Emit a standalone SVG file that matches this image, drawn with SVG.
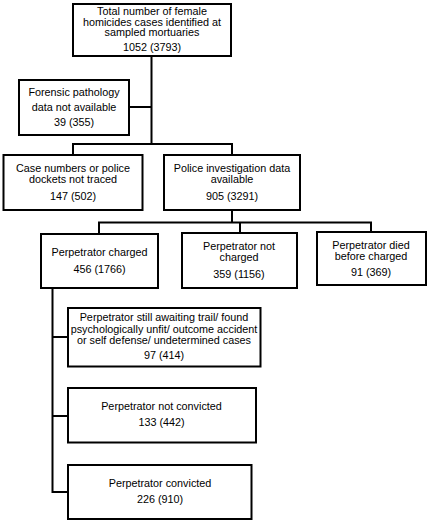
<svg xmlns="http://www.w3.org/2000/svg" width="430" height="523" viewBox="0 0 430 523">
<style>
rect{fill:#fff;stroke:#000;stroke-width:2}
text{font-family:"Liberation Sans",Arial,sans-serif;font-size:10.8px;fill:#000;text-anchor:middle}
#connectors path{fill:none;stroke:#000;stroke-width:2}
</style>
<rect x="0" y="0" width="430" height="523" style="stroke:none"/>
<g id="connectors">
<path d="M151.5 57V144M129 107H151.5M73 144H232M73 143V155M232 143V155"/>
<path d="M232 210V222.5M99 222.5H371M99 221.5V234M240 221.5V233M371 221.5V232"/>
<path d="M52.5 288V492M51.5 337H68M51.5 416H68M51.5 492H68"/>
</g>
<g id="n-total"><rect x="73" y="4" width="158" height="52"/><text x="152" y="15">Total number of female</text><text x="152" y="25.5">homicides cases identified at</text><text x="152" y="36">sampled mortuaries</text><text x="152" y="51">1052 (3793)</text></g>
<g id="n-forensic"><rect x="19" y="80" width="110" height="55"/><text x="74" y="95.5">Forensic pathology</text><text x="74" y="111">data not available</text><text x="74" y="126">39 (355)</text></g>
<g id="n-case"><rect x="3.5" y="155" width="139" height="55"/><text x="73" y="172">Case numbers or police</text><text x="73" y="183">dockets not traced</text><text x="73" y="200">147 (502)</text></g>
<g id="n-police"><rect x="164" y="155" width="136" height="55"/><text x="232" y="172">Police investigation data</text><text x="232" y="183">available</text><text x="232" y="200">905 (3291)</text></g>
<g id="n-charged"><rect x="41" y="234" width="117" height="54"/><text x="99.5" y="256">Perpetrator charged</text><text x="99.5" y="273">456 (1766)</text></g>
<g id="n-notcharged"><rect x="182" y="233" width="115" height="55"/><text x="239" y="250">Perpetrator not</text><text x="239" y="261">charged</text><text x="239" y="278">359 (1156)</text></g>
<g id="n-died"><rect x="317" y="232" width="109" height="53"/><text x="371" y="248.5">Perpetrator died</text><text x="371" y="259.5">before charged</text><text x="371" y="276">91 (369)</text></g>
<g id="n-awaiting"><rect x="68" y="308" width="192.5" height="58.5"/><text x="164" y="321">Perpetrator still awaiting trail/ found</text><text x="164" y="332.5">psychologically unfit/ outcome accident</text><text x="164" y="344">or self defense/ undetermined cases</text><text x="164" y="359">97 (414)</text></g>
<g id="n-notconvicted"><rect x="68" y="388" width="188" height="54.5"/><text x="161.5" y="409.5">Perpetrator not convicted</text><text x="161.5" y="426">133 (442)</text></g>
<g id="n-convicted"><rect x="68" y="465" width="183.5" height="54"/><text x="160" y="487">Perpetrator convicted</text><text x="160" y="503">226 (910)</text></g>
</svg>
